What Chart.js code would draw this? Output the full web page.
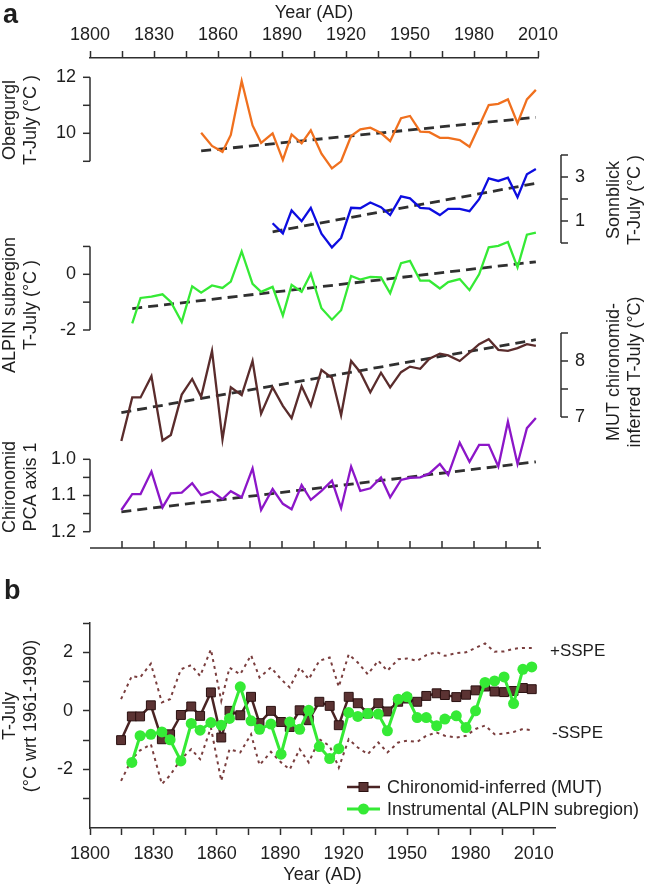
<!DOCTYPE html>
<html><head><meta charset="utf-8">
<script src="https://cdn.jsdelivr.net/npm/chart.js@4.4.1/dist/chart.umd.min.js"></script>
<style>
html,body{margin:0;padding:0;background:#fff;}
#wrap{position:relative;width:646px;height:889px;overflow:hidden;}
canvas{position:absolute;left:0;}
#ca{top:0;} #cb{top:575px;}
</style></head><body>
<div id="wrap"><canvas id="ca" width="646" height="575"></canvas><canvas id="cb" width="646" height="314"></canvas></div>
<script>
// ---------------- DATA ----------------
const sampleYears = [1814.7, 1819.8, 1823.7, 1828.8, 1834.0, 1837.9, 1843.0, 1847.9, 1852.1, 1857.2, 1862.1, 1866.0, 1871.1, 1876.2, 1880.2, 1885.6, 1890.4, 1894.5, 1899.2, 1903.5, 1908.5, 1913.4, 1917.7, 1922.4, 1926.7, 1931.4, 1936.4, 1940.7, 1945.8, 1950.0, 1954.8, 1959.1, 1964.0, 1967.9, 1973.3, 1977.9, 1982.4, 1986.9, 1991.4, 1995.9, 2000.4, 2004.8, 2009.0];
const obergurglYears = sampleYears.slice(8);
const sonnblickYears = sampleYears.slice(15);
const alpinYears = sampleYears.slice(1);

const obergurglT = [10.02, 9.55, 9.34, 9.94, 11.87, 10.28, 9.66, 10.0, 9.05, 9.96, 9.64, 10.11, 9.27, 8.75, 9.0, 9.9, 10.14, 10.2, 10.01, 9.72, 10.54, 10.62, 10.06, 10.04, 9.84, 9.84, 9.76, 9.52, 10.26, 11.01, 11.05, 11.21, 10.36, 11.21, 11.55];
const sonnblickT = [0.9, 0.44, 1.48, 0.99, 1.6, 0.42, -0.2, 0.23, 1.6, 1.58, 1.84, 1.63, 1.27, 2.12, 2.03, 1.6, 1.56, 1.27, 1.55, 1.55, 1.45, 1.99, 2.94, 2.82, 2.97, 2.08, 3.12, 3.36];
const alpinAnomaly = [-1.76, -0.85, -0.8, -0.72, -0.99, -1.71, -0.43, -0.66, -0.4, -0.49, -0.26, 0.82, -0.34, -0.63, -0.45, -1.48, -0.38, -0.63, 0.02, -1.22, -1.63, -1.29, -0.06, -0.19, -0.09, -0.11, -0.68, 0.4, 0.48, -0.23, -0.23, -0.51, -0.28, -0.17, -0.57, 0.0, 0.97, 1.02, 1.16, 0.25, 1.42, 1.5];
const mutT = [6.57, 7.35, 7.35, 7.73, 6.58, 6.68, 7.4, 7.68, 7.36, 8.18, 6.6, 7.53, 7.39, 8.0, 7.06, 7.53, 7.2, 6.98, 7.55, 7.2, 7.84, 7.7, 7.03, 8.0, 7.8, 7.44, 7.79, 7.53, 7.8, 7.9, 7.86, 8.04, 8.13, 8.1, 8.0, 8.15, 8.3, 8.39, 8.2, 8.18, 8.23, 8.3, 8.27];
const pcaAxis1 = [1.14, 1.096, 1.096, 1.034, 1.133, 1.094, 1.092, 1.066, 1.099, 1.089, 1.11, 1.088, 1.105, 1.025, 1.14, 1.082, 1.123, 1.138, 1.071, 1.112, 1.087, 1.059, 1.135, 1.02, 1.087, 1.08, 1.05, 1.105, 1.057, 1.051, 1.05, 1.039, 1.013, 1.043, 0.954, 1.007, 0.96, 0.96, 1.02, 0.896, 1.013, 0.914, 0.886];

const mutAnomaly = [-1.0, -0.19, -0.19, 0.19, -0.97, -0.8, -0.14, 0.15, -0.17, 0.63, -0.91, 0.0, -0.15, 0.48, -0.42, 0.0, -0.38, -0.55, 0.02, -0.32, 0.31, 0.17, -0.49, 0.48, 0.26, -0.09, 0.26, -0.02, 0.31, 0.42, 0.31, 0.51, 0.6, 0.54, 0.47, 0.55, 0.7, 0.83, 0.66, 0.64, 0.68, 0.78, 0.74];
const sspeUpper = [0.4, 1.19, 1.14, 1.61, 0.29, 0.4, 1.42, 1.56, 1.19, 2.1, 0.34, 1.47, 1.25, 1.9, 1.14, 1.48, 1.08, 0.8, 1.48, 1.08, 1.71, 1.82, 0.82, 1.93, 1.65, 1.25, 1.71, 1.37, 1.76, 1.79, 1.71, 1.9, 2.01, 1.88, 1.97, 2.0, 2.15, 2.3, 2.02, 2.03, 2.12, 2.15, 2.15];
const sspeLower = [-2.39, -1.65, -1.35, -1.14, -2.5, -2.2, -1.65, -1.31, -1.65, -0.57, -2.39, -1.31, -1.42, -0.8, -1.85, -1.4, -1.76, -2.0, -1.31, -1.76, -0.97, -1.2, -1.94, -0.97, -1.25, -1.48, -1.08, -1.42, -1.08, -1.02, -1.06, -0.85, -0.74, -0.85, -0.91, -0.85, -0.62, -0.5, -0.8, -0.78, -0.72, -0.62, -0.66];

// linear trend end points
const obergurglTrendYears = [1852.1, 2009.0], obergurglTrendT = [9.37, 10.57];
const sonnblickTrendYears = [1885.6, 2009.0], sonnblickTrendT = [0.51, 2.71];
const alpinTrendYears = [1819.8, 2009.0], alpinTrendT = [-1.23, 0.45];
const mutTrendYears = [1814.7, 2009.0], mutTrendT = [7.08, 8.38];
const pcaTrendYears = [1814.7, 2009.0], pcaTrendV = [1.145, 1.007];

// tick labels
const xTickYears = [1800, 1815, 1830, 1845, 1860, 1875, 1890, 1905, 1920, 1935, 1950, 1965, 1980, 1995, 2010];
const xLabelYears = [1800, 1830, 1860, 1890, 1920, 1950, 1980, 2010];
const obergurglTicks = [9, 10, 11, 12], obergurglLabels = [10, 12];
const sonnblickTicks = [0, 1, 2, 3, 4], sonnblickLabels = [1, 3];
const alpinTicks = [-2, -1, 0, 1], alpinLabels = [0, -2];
const mutTicks = [7, 7.5, 8, 8.5], mutLabels = [7, 8];
const pcaTicks = [1.0, 1.05, 1.1, 1.15, 1.2], pcaLabels = [1.0, 1.1, 1.2];
const bYTicks = [-3, -2, -1, 0, 1, 2, 3], bYLabels = [2, 0, -2];

// ---------------- STYLE / LAYOUT ----------------
const FONT = '"Liberation Sans", Arial, Helvetica, sans-serif';
const TXT = '#1e1e1e', AX = '#2e2e2e';
const ORANGE = '#f0701e', BLUE = '#0d0de0', GREEN = '#35ea35', BROWN = '#5a2c2c', PURPLE = '#8c16c8', DASH = '#303030', SSPE = '#7a3e3e';
const A_TOP = 58, A_BOT = 548, A_LEFT = 90, A_RIGHT = 538;
const LEFT_AX = 90, RIGHT_AX = 561;

function fitScale(v1, p1, v2, p2) {
  const s = (p2 - p1) / (v2 - v1);
  const vTop = v1 + (A_TOP - p1) / s, vBot = v1 + (A_BOT - p1) / s;
  return s < 0 ? {min: vBot, max: vTop, reverse: false} : {min: vTop, max: vBot, reverse: true};
}
const pts = (xs, ys) => xs.map((x, i) => ({x, y: ys[i]}));

const bracketAxes = [
  {id: 'yOber', side: 'left', ticks: obergurglTicks, labels: obergurglLabels, fmt: v => String(v)},
  {id: 'ySonn', side: 'right', ticks: sonnblickTicks, labels: sonnblickLabels, fmt: v => String(v)},
  {id: 'yAlpin', side: 'left', ticks: alpinTicks, labels: alpinLabels, fmt: v => String(v)},
  {id: 'yMut', side: 'right', ticks: mutTicks, labels: mutLabels, fmt: v => String(v)},
  {id: 'yPca', side: 'left', ticks: pcaTicks, labels: pcaLabels, fmt: v => v.toFixed(1)}
];

function vText(ctx, text, x, cy) {
  ctx.save(); ctx.translate(x, cy); ctx.rotate(-Math.PI / 2);
  ctx.textAlign = 'center'; ctx.textBaseline = 'middle'; ctx.fillText(text, 0, 0); ctx.restore();
}

const panelADecor = {
  id: 'panelADecor',
  afterDraw(chart) {
    const ctx = chart.ctx, ca = chart.chartArea, xs = chart.scales.x;
    ctx.save();
    ctx.strokeStyle = AX; ctx.lineWidth = 1.5; ctx.fillStyle = TXT;
    ctx.font = '18px ' + FONT;
    for (const b of bracketAxes) {
      const s = chart.scales[b.id];
      const x = b.side === 'left' ? LEFT_AX : RIGHT_AX;
      const dir = b.side === 'left' ? -1 : 1;
      const y1 = s.getPixelForValue(b.ticks[0]), y2 = s.getPixelForValue(b.ticks[b.ticks.length - 1]);
      ctx.beginPath(); ctx.moveTo(x, y1); ctx.lineTo(x, y2); ctx.stroke();
      for (const t of b.ticks) {
        const y = s.getPixelForValue(t);
        ctx.beginPath(); ctx.moveTo(x, y); ctx.lineTo(x + dir * 7, y); ctx.stroke();
      }
      ctx.textBaseline = 'middle'; ctx.textAlign = b.side === 'left' ? 'right' : 'left';
      for (const t of b.labels) ctx.fillText(b.fmt(t), x + dir * 14, s.getPixelForValue(t));
    }
    // bottom axis with inward ticks
    ctx.beginPath(); ctx.moveTo(ca.left, ca.bottom); ctx.lineTo(ca.right + 3, ca.bottom); ctx.stroke();
    for (const t of xTickYears.slice(1)) {
      const x = xs.getPixelForValue(t);
      ctx.beginPath(); ctx.moveTo(x, ca.bottom); ctx.lineTo(x, ca.bottom - 7); ctx.stroke();
    }
    // titles
    ctx.font = '18px ' + FONT;
    vText(ctx, 'Obergurgl', 10, 120); vText(ctx, 'T-July (°C )', 31, 120);
    vText(ctx, 'ALPIN subregion', 10, 305); vText(ctx, 'T-July (°C )', 31, 305);
    vText(ctx, 'Chironomid', 10, 487); vText(ctx, 'PCA axis 1', 31, 487);
    vText(ctx, 'Sonnblick', 614, 200); vText(ctx, 'T-July (°C )', 635, 200);
    vText(ctx, 'MUT chironomid-', 614, 372); vText(ctx, 'inferred T-July (°C)', 635, 372);
    ctx.font = 'bold 27px ' + FONT; ctx.textAlign = 'left'; ctx.textBaseline = 'middle';
    ctx.fillText('a', 3, 16);
    ctx.restore();
  }
};

const lineDs = (label, data, color, yAxisID) => ({label, data, yAxisID, borderColor: color, borderWidth: 2.3, pointRadius: 0, tension: 0, clip: false, fill: false});
const trendDs = (label, data, yAxisID) => ({label, data, yAxisID, borderColor: DASH, borderWidth: 2.8, borderDash: [10, 6], pointRadius: 0, clip: false, fill: false});

const scOber = fitScale(12, 77.3, 10, 133.3);
const scSonn = fitScale(3, 177, 1, 221);
const scAlpin = fitScale(0, 274.3, -2, 330);
const scMut = fitScale(8, 361, 7, 417);
const scPca = fitScale(1.0, 459.3, 1.2, 531.7);
const hiddenY = sc => Object.assign({type: 'linear', display: false, bounds: 'data'}, sc);

new Chart(document.getElementById('ca'), {
  type: 'line',
  data: {datasets: [
    lineDs('Obergurgl', pts(obergurglYears, obergurglT), ORANGE, 'yOber'),
    trendDs('Obergurgl trend', pts(obergurglTrendYears, obergurglTrendT), 'yOber'),
    lineDs('Sonnblick', pts(sonnblickYears, sonnblickT), BLUE, 'ySonn'),
    trendDs('Sonnblick trend', pts(sonnblickTrendYears, sonnblickTrendT), 'ySonn'),
    lineDs('ALPIN subregion', pts(alpinYears, alpinAnomaly), GREEN, 'yAlpin'),
    trendDs('ALPIN trend', pts(alpinTrendYears, alpinTrendT), 'yAlpin'),
    lineDs('MUT', pts(sampleYears, mutT), BROWN, 'yMut'),
    trendDs('MUT trend', pts(mutTrendYears, mutTrendT), 'yMut'),
    lineDs('PCA axis 1', pts(sampleYears, pcaAxis1), PURPLE, 'yPca'),
    trendDs('PCA trend', pts(pcaTrendYears, pcaTrendV), 'yPca')
  ]},
  options: {
    responsive: false, animation: false, devicePixelRatio: 1, events: [],
    layout: {padding: {left: A_LEFT, right: 646 - A_RIGHT, top: 2, bottom: 575 - A_BOT}},
    plugins: {legend: {display: false}, tooltip: {enabled: false}},
    scales: {
      x: {type: 'linear', position: 'top', min: 1800, max: 2010, bounds: 'data',
        afterBuildTicks: s => { s.ticks = xTickYears.map(v => ({value: v})); },
        afterFit: s => { s.height = A_TOP - 2; },
        ticks: {autoSkip: false, maxRotation: 0, padding: 5, color: TXT, font: {family: FONT, size: 18},
          callback: v => xLabelYears.includes(v) ? String(v) : ''},
        grid: {drawOnChartArea: false, drawTicks: true, tickLength: 7, tickColor: AX, tickWidth: 1.5},
        border: {display: true, color: AX, width: 1.5},
        title: {display: true, text: 'Year (AD)', color: TXT, font: {family: FONT, size: 18}, padding: {top: 0, bottom: 0}}},
      yOber: hiddenY(scOber), ySonn: hiddenY(scSonn), yAlpin: hiddenY(scAlpin), yMut: hiddenY(scMut), yPca: hiddenY(scPca)
    }
  },
  plugins: [panelADecor]
});

// ---------------- PANEL B ----------------
const panelBDecor = {
  id: 'panelBDecor',
  afterDraw(chart) {
    const ctx = chart.ctx, ys = chart.scales.y;
    ctx.save();
    ctx.fillStyle = TXT; ctx.font = '18px ' + FONT;
    vText(ctx, 'T-July', 10, 141); vText(ctx, '(°C wrt 1961-1990)', 31, 141);
    ctx.font = '17px ' + FONT; ctx.textAlign = 'left'; ctx.textBaseline = 'middle';
    ctx.fillText('+SSPE', 550, ys.getPixelForValue(2.05));
    ctx.fillText('-SSPE', 552, ys.getPixelForValue(-0.75));
    // legend
    ctx.font = '18px ' + FONT;
    const ly1 = 212, ly2 = 234, lx0 = 347, lx1 = 380, mx = 363.5;
    ctx.strokeStyle = '#4a2424'; ctx.lineWidth = 2.5;
    ctx.beginPath(); ctx.moveTo(lx0, ly1); ctx.lineTo(lx1, ly1); ctx.stroke();
    ctx.fillStyle = '#5b3333'; ctx.strokeStyle = '#2a1010'; ctx.lineWidth = 1;
    ctx.fillRect(mx - 4.5, ly1 - 4.5, 9, 9); ctx.strokeRect(mx - 4.5, ly1 - 4.5, 9, 9);
    ctx.strokeStyle = GREEN; ctx.lineWidth = 3;
    ctx.beginPath(); ctx.moveTo(lx0, ly2); ctx.lineTo(lx1, ly2); ctx.stroke();
    ctx.fillStyle = GREEN; ctx.beginPath(); ctx.arc(mx, ly2, 5.5, 0, Math.PI * 2); ctx.fill();
    ctx.fillStyle = TXT;
    ctx.fillText('Chironomid-inferred (MUT)', 387, ly1 + 1);
    ctx.fillText('Instrumental (ALPIN subregion)', 387, ly2 + 1);
    ctx.font = 'bold 27px ' + FONT;
    ctx.fillText('b', 4, 17);
    ctx.restore();
  }
};

new Chart(document.getElementById('cb'), {
  type: 'line',
  data: {datasets: [
    {label: 'Instrumental (ALPIN subregion)', data: pts(alpinYears, alpinAnomaly), borderColor: GREEN, borderWidth: 3,
      pointRadius: 5.5, pointBackgroundColor: GREEN, pointBorderColor: GREEN, pointBorderWidth: 0, order: 0, clip: false},
    {label: 'Chironomid-inferred (MUT)', data: pts(sampleYears, mutAnomaly), borderColor: '#4a2424', borderWidth: 2.5,
      pointStyle: 'rect', pointRadius: 6.3, pointBackgroundColor: '#5b3333', pointBorderColor: '#2a1010', pointBorderWidth: 1, order: 1, clip: false},
    {label: '+SSPE', data: pts(sampleYears, sspeUpper), borderColor: SSPE, borderWidth: 2, borderDash: [3, 4], pointRadius: 0, order: 2, clip: false},
    {label: '-SSPE', data: pts(sampleYears, sspeLower), borderColor: SSPE, borderWidth: 2, borderDash: [3, 4], pointRadius: 0, order: 3, clip: false}
  ]},
  options: {
    responsive: false, animation: false, devicePixelRatio: 1, events: [],
    layout: {padding: {left: 0, right: 91, top: 48, bottom: 3}},
    plugins: {legend: {display: false}, tooltip: {enabled: false}},
    scales: {
      x: {type: 'linear', position: 'bottom', min: 1800, max: 2020, bounds: 'data',
        afterBuildTicks: s => { s.ticks = xTickYears.map(v => ({value: v})); },
        afterFit: s => { s.height = 58; },
        ticks: {autoSkip: false, maxRotation: 0, padding: 8, color: TXT, font: {family: FONT, size: 18},
          callback: v => xLabelYears.includes(v) ? String(v) : ''},
        grid: {drawOnChartArea: false, drawTicks: true, tickLength: 7, tickColor: AX, tickWidth: 1.5},
        border: {display: true, color: AX, width: 1.5},
        title: {display: true, text: 'Year (AD)', color: TXT, font: {family: FONT, size: 18}, padding: {top: 0, bottom: 0}}},
      y: {type: 'linear', position: 'left', min: -4, max: 3, bounds: 'data',
        afterBuildTicks: s => { s.ticks = bYTicks.map(v => ({value: v})); },
        afterFit: s => { s.width = 90; },
        ticks: {autoSkip: false, padding: 10, color: TXT, font: {family: FONT, size: 18},
          callback: v => bYLabels.includes(v) ? String(v) : ''},
        grid: {drawOnChartArea: false, drawTicks: true, tickLength: 7, tickColor: AX, tickWidth: 1.5},
        border: {display: true, color: AX, width: 1.5}}
    }
  },
  plugins: [panelBDecor]
});
</script>
</body></html>
